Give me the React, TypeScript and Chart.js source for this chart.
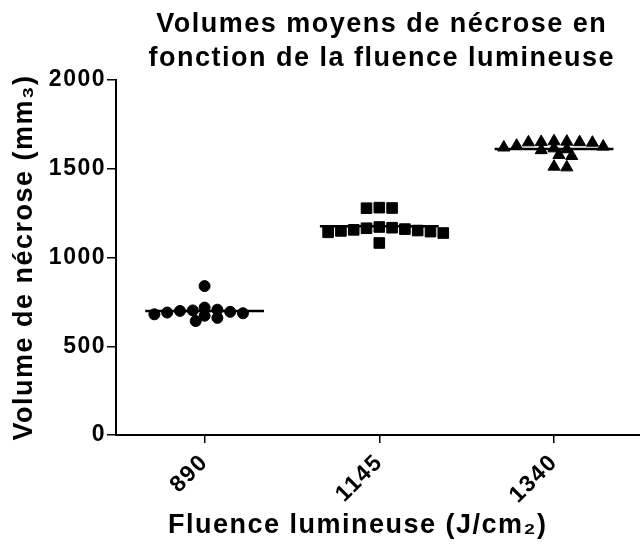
import { useEffect, useRef } from 'react';
import { Chart, registerables } from 'chart.js';

Chart.register(...registerables);

// ---- data ----
const categories = ['890', '1145', '1340'];
const volumes890 = [839, 718, 706, 702, 699, 694, 690, 686, 680, 672, 660, 642];
const volumes1145 = [1279, 1281, 1278, 1172, 1168, 1165, 1160, 1156, 1152, 1150, 1146, 1142, 1138, 1082];
const volumes1340 = [1655, 1653, 1651, 1650, 1649, 1647, 1630, 1625, 1620, 1615, 1610, 1605, 1578, 1572, 1512, 1508];
const groups = [volumes890, volumes1145, volumes1340];
const yTickValues = [0, 500, 1000, 1500, 2000];
const chartTitle = ['Volumes moyens de nécrose en', 'fonction de la fluence lumineuse'];
const yAxisTitle = 'Volume de nécrose (mm₃)';
const xAxisTitle = 'Fluence lumineuse (J/cm₂)';

// ---- styles ----
const FONT = "'Liberation Sans', Arial, Helvetica, sans-serif";
const pointStyles = ['circle', 'rect', 'triangle'];
const pointRadii = [5.5, 7.5, 7];
const MEAN_HALF = 0.34;
const X_MIN = -0.507;
const X_MAX = 2.535;
const Y_MAX = 2000;
const PX_PER_X = 177.5;
const PX_PER_Y = 355 / Y_MAX;
const SWARM_DX = 13;
const SWARM_DY = 7;

function mean(a: number[]) {
  return a.reduce((s, v) => s + v, 0) / a.length;
}

// deterministic beeswarm: horizontal offsets so markers do not pile up
function swarmOffsets(values: number[]): number[] {
  const order = values.map((_, i) => i).sort((a, b) => values[b] - values[a]);
  const placed: { x: number; y: number }[] = [];
  const offs = new Array(values.length).fill(0);
  for (const i of order) {
    const y = values[i] * PX_PER_Y;
    for (let k = 0; k < 1000; k++) {
      const c = k === 0 ? 0 : k % 2 === 1 ? (k + 1) / 2 : -k / 2;
      const ok = placed.every(
        (p) => ((p.x - c) / SWARM_DX) ** 2 + ((p.y - y) / SWARM_DY) ** 2 >= 1
      );
      if (ok) {
        placed.push({ x: c, y });
        offs[i] = c / PX_PER_X;
        break;
      }
    }
  }
  return offs;
}

export default function App() {
  const ref = useRef<HTMLCanvasElement>(null);

  useEffect(() => {
    const canvas = ref.current;
    if (!canvas) return;
    const datasets: any[] = [];
    groups.forEach((vals, gi) => {
      const offs = swarmOffsets(vals);
      datasets.push({
        type: 'scatter',
        data: vals.map((v, i) => ({ x: gi + offs[i], y: v })),
        pointStyle: pointStyles[gi],
        pointRadius: pointRadii[gi],
        backgroundColor: '#000',
        borderColor: '#000',
        borderWidth: 1,
      });
      const m = mean(vals);
      datasets.push({
        type: 'line',
        data: [
          { x: gi - MEAN_HALF, y: m },
          { x: gi + MEAN_HALF, y: m },
        ],
        borderColor: '#000',
        borderWidth: 2.5,
        pointRadius: 0,
        fill: false,
      });
    });

    const spacingPlugin = {
      id: 'spacing',
      beforeDraw(chart: any) {
        chart.ctx.letterSpacing = '1.5px';
      },
      afterDraw(chart: any) {
        const { ctx, chartArea } = chart;
        ctx.save();
        ctx.letterSpacing = '1.5px';
        ctx.font = `bold 27px ${FONT}`;
        ctx.fillStyle = '#000';
        ctx.textAlign = 'center';
        ctx.textBaseline = 'middle';
        ctx.fillText(xAxisTitle, (chartArea.left + chartArea.right) / 2 - 24, chart.height - 19);
        ctx.restore();
      },
    };

    const chart = new Chart(canvas, {
      type: 'scatter',
      data: { datasets },
      plugins: [spacingPlugin],
      options: {
        responsive: false,
        animation: false,
        devicePixelRatio: 1,
        layout: { padding: 0 },
        plugins: {
          legend: { display: false },
          tooltip: { enabled: false },
          title: {
            display: true,
            text: chartTitle,
            fullSize: false,
            color: '#000',
            font: { family: FONT, size: 27, weight: 'bold', lineHeight: 1.26 },
            padding: { top: 8, bottom: 4 },
          },
        },
        scales: {
          x: {
            type: 'linear',
            min: X_MIN,
            max: X_MAX,
            afterBuildTicks: (s: any) => {
              s.ticks = categories.map((_, i) => ({ value: i }));
            },
            afterFit: (s: any) => {
              s.height = 110;
            },
            ticks: {
              callback: (v: any) => categories[v] ?? '',
              color: '#000',
              font: { family: FONT, size: 23, weight: 'bold' },
              minRotation: 45,
              maxRotation: 45,
              padding: 6,
            },
            grid: {
              drawOnChartArea: false,
              drawTicks: true,
              tickLength: 8,
              color: '#000',
              lineWidth: 1.5,
            },
            border: { display: true, color: '#000', width: 2 },
            title: { display: false },
          },
          y: {
            type: 'linear',
            min: 0,
            max: Y_MAX,
            afterBuildTicks: (s: any) => {
              s.ticks = yTickValues.map((v) => ({ value: v }));
            },
            afterFit: (s: any) => {
              s.width = 116;
            },
            ticks: {
              callback: (v: any) => String(v),
              color: '#000',
              font: { family: FONT, size: 23, weight: 'bold' },
              padding: 1,
            },
            grid: {
              drawOnChartArea: false,
              drawTicks: true,
              tickLength: 9,
              color: '#000',
              lineWidth: 1.5,
            },
            border: { display: true, color: '#000', width: 2 },
            title: {
              display: true,
              text: yAxisTitle,
              color: '#000',
              font: { family: FONT, size: 27, weight: 'bold', lineHeight: 1.2 },
              padding: { top: 8, bottom: 0 },
            },
          },
        },
      } as any,
    });
    return () => chart.destroy();
  }, []);

  return (
    <div
      style={{
        position: 'fixed',
        left: 0,
        top: 0,
        width: 640,
        height: 545,
        overflow: 'hidden',
        background: '#fff',
      }}
    >
      <canvas ref={ref} width={656} height={545} style={{ display: 'block' }} />
    </div>
  );
}
